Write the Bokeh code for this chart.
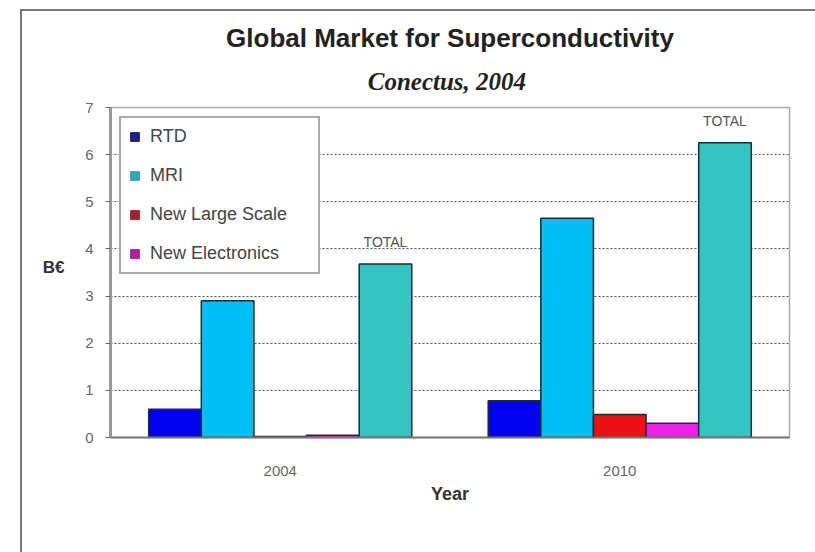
from bokeh.plotting import figure
from bokeh.models import (ColumnDataSource, FactorRange, Range1d, FixedTicker, Legend, LegendItem,
                          Title, LinearAxis)
from bokeh.transform import dodge
from bokeh.core.properties import value
from bokeh.embed import file_html
from bokeh.resources import INLINE

years = ["2004", "2010"]
rtd = [0.6, 0.78]
mri = [2.9, 4.65]
new_large_scale = [0.02, 0.49]
new_electronics = [0.05, 0.3]
total = [3.68, 6.25]
total_labels = ["TOTAL", "TOTAL"]

series_names = ["RTD", "MRI", "New Large Scale", "New Electronics"]
bar_colors = ["#0000f5", "#00bff5", "#ee1111", "#f020e8"]
legend_colors = ["#1c1c90", "#30a8b4", "#a82030", "#a820a8"]
total_color = "#33c4c4"
y_ticks = [0, 1, 2, 3, 4, 5, 6, 7]
y_unit_label = "B€"
y_unit_pos = 3.6

src = ColumnDataSource(dict(year=years, rtd=rtd, mri=mri, nls=new_large_scale,
                            ne=new_electronics, total=total, lab=total_labels))

p = figure(width=795, height=543, x_range=FactorRange(*years), y_range=Range1d(0, 7),
           output_backend="svg", toolbar_location=None,
           min_border_left=88, min_border_right=28, min_border_top=96, min_border_bottom=117)
p.margin = (9, 0, 0, 20)
p.styles = {"border-left": "2px solid #777777", "border-top": "2px solid #777777"}

w = 0.155
outline = "#1e2a36"
cols = ["rtd", "mri", "nls", "ne", "total"]
colors = bar_colors + [total_color]
offs = [-2 * w, -w, 0, w, 2 * w]
for c, col, o in zip(cols, colors, offs):
    p.vbar(x=dodge("year", o, range=p.x_range), top=c, width=w, bottom=0, source=src,
           fill_color=col, line_color=outline, line_width=1.5)

p.text(x=dodge("year", 2 * w, range=p.x_range), y="total", text="lab", source=src,
       text_align="center", text_baseline="middle", y_offset=-22,
       text_font=value("Liberation Sans"), text_font_size="14px", text_color="#555555")

# legend with hidden single-point renderers (legend swatches only)
items = []
for name, col in zip(series_names, legend_colors):
    r = p.vbar(x=["2004"], top=[0], width=0.1, fill_color=col, line_color=col)
    r.visible = False
    items.append(LegendItem(label=name, renderers=[r]))
legend = Legend(items=items, location="top_left")
legend.margin = 9
legend.padding = 8
legend.spacing = 18
legend.glyph_width = 11
legend.glyph_height = 11
legend.label_height = 20
legend.label_width = 160
legend.label_standoff = 10
legend.label_text_font = "Liberation Sans"
legend.label_text_font_size = "18px"
legend.label_text_color = "#444444"
legend.border_line_color = "#555555"
legend.border_line_width = 2
legend.background_fill_alpha = 1
p.add_layout(legend, "center")

# axes
p.xgrid.grid_line_color = None
p.ygrid.grid_line_color = "#555555"
p.ygrid.grid_line_dash = "2 2"
p.ygrid.grid_line_width = 1
p.yaxis.ticker = FixedTicker(ticks=y_ticks)
p.yaxis.axis_line_color = "#999999"
p.yaxis.axis_line_width = 3
p.yaxis.major_tick_line_color = "#666666"
p.yaxis.major_tick_in = 0
p.yaxis.major_tick_out = 5
p.yaxis.minor_tick_line_color = None
p.yaxis.major_label_text_font = "Liberation Sans"
p.yaxis.major_label_text_font_size = "15px"
p.yaxis.major_label_text_color = "#666666"
p.yaxis.major_label_standoff = 12

# unit label drawn as a horizontal tick label of an extra, invisible left axis
unit_axis = LinearAxis(ticker=FixedTicker(ticks=[y_unit_pos]),
                       major_label_overrides={y_unit_pos: y_unit_label})
unit_axis.axis_line_color = None
unit_axis.major_tick_line_color = None
unit_axis.minor_tick_line_color = None
unit_axis.major_label_standoff = 12
unit_axis.major_label_text_font = "Liberation Sans"
unit_axis.major_label_text_font_style = "bold"
unit_axis.major_label_text_font_size = "17px"
unit_axis.major_label_text_color = "#333333"
p.add_layout(unit_axis, "left")

p.xaxis.axis_line_color = "#777777"
p.xaxis.axis_line_width = 2
p.xaxis.major_tick_line_color = None
p.xaxis.minor_tick_line_color = None
p.xaxis.major_label_text_font = "Liberation Sans"
p.xaxis.major_label_text_font_size = "15px"
p.xaxis.major_label_text_color = "#666666"
p.xaxis.major_label_standoff = 22
p.xaxis.axis_label = "Year"
p.xaxis.axis_label_text_font = "Liberation Sans"
p.xaxis.axis_label_text_font_style = "bold"
p.xaxis.axis_label_text_font_size = "18px"
p.xaxis.axis_label_text_color = "#333333"
p.xaxis.axis_label_standoff = 5

p.outline_line_color = "#aaaaaa"
p.outline_line_width = 1.5

# titles (subtitle first: it sits next to the frame)
p.add_layout(Title(text="Conectus,  2004", align="center", text_font="Liberation Serif",
                   text_font_style="bold italic", text_font_size="25px", text_color="#222222",
                   standoff=25), "above")
p.add_layout(Title(text="Global Market for Superconductivity", align="center",
                   text_font="Liberation Sans", text_font_style="bold", text_font_size="26px",
                   text_color="#222222", standoff=2), "above")

open("out.html", "w").write(file_html(p, INLINE))
